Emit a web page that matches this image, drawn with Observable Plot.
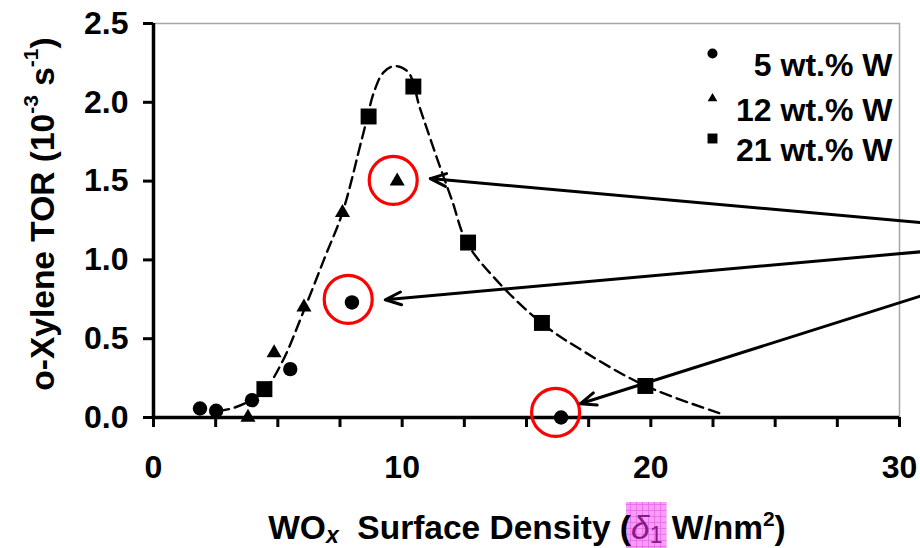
<!DOCTYPE html>
<html><head><meta charset="utf-8">
<script src="https://cdn.jsdelivr.net/npm/d3@7"></script>
<script src="https://cdn.jsdelivr.net/npm/@observablehq/plot@0.6"></script>
<style>body{margin:0;background:#fff} svg{display:block}</style>
</head><body><div id="chart"></div>
<script>
// ---- data ----
const seriesNames = ["5 wt.% W", "12 wt.% W", "21 wt.% W"];
const w5X  = [1.87, 2.52, 3.96, 5.50, 7.98, 16.39];
const w5Y  = [0.057, 0.043, 0.11, 0.307, 0.73, 0.0];
const w12X = [3.8, 4.85, 6.05, 7.6, 9.8];
const w12Y = [0.0, 0.41, 0.70, 1.30, 1.50];
const w21X = [4.46, 8.65, 10.45, 12.65, 15.62, 19.78];
const w21Y = [0.18, 1.91, 2.10, 1.11, 0.60, 0.20];
// dashed guide curve
const curveX = [2.6, 3.2, 3.8, 4.5, 5.2, 6.0, 6.9, 7.6, 8.4, 8.9, 9.25, 9.7, 10.25, 10.7, 11.0, 11.5, 12.0, 12.6, 13.8, 15.6, 17.4, 19.8, 22.9];
const curveY = [0.04, 0.06, 0.10, 0.18, 0.36, 0.66, 1.02, 1.30, 1.78, 2.08, 2.19, 2.23, 2.19, 1.97, 1.83, 1.60, 1.38, 1.11, 0.87, 0.60, 0.41, 0.20, 0.02];
// annotations
const circledX = [9.64, 7.83, 16.17];
const circledY = [1.505, 0.749, 0.032];
const arrowFromX = [30.9, 30.9, 30.9];
const arrowFromY = [1.236, 1.052, 0.773];
const arrowToX = [11.13, 9.32, 17.16];
const arrowToY = [1.516, 0.747, 0.087];
// ticks
const xTicks = [0, 2.5, 5, 7.5, 10, 12.5, 15, 17.5, 20, 22.5, 25, 27.5, 30];
const xTickLabels = [0, 10, 20, 30];
const yTicks = [0, 0.5, 1.0, 1.5, 2.0, 2.5];

const pts = (xs, ys) => xs.map((x, i) => ({x, y: ys[i]}));
const arrows = arrowFromX.map((x1, i) => ({x1, y1: arrowFromY[i], x2: arrowToX[i], y2: arrowToY[i]}));

const FONT = "'Liberation Sans', Arial, Helvetica, sans-serif";

const chart = Plot.plot({
  width: 920, height: 548,
  marginLeft: 153, marginRight: 21, marginTop: 23, marginBottom: 131,
  x: {domain: [0, 30]},
  y: {domain: [0, 2.5]},
  style: {fontFamily: FONT, fontWeight: "bold", background: "#fff", color: "#000"},
  marks: [
    Plot.frame({stroke: "#a6a6a6", strokeWidth: 1.5}),
    Plot.line(pts(curveX, curveY), {x: "x", y: "y", curve: "catmull-rom", stroke: "#000", strokeWidth: 2.4, strokeDasharray: "11,6"}),
    Plot.axisY({ticks: yTicks, tickFormat: d3.format(".1f"), tickSize: 10, tickPadding: 15, strokeWidth: 3, fontSize: 32, label: null}),
    Plot.axisX({ticks: xTicks, tickFormat: d => xTickLabels.includes(d) ? String(d) : "", tickSize: 10, tickPadding: 28, strokeWidth: 3, fontSize: 32, label: null}),
    Plot.ruleX([0], {stroke: "#000", strokeWidth: 3.5}),
    Plot.ruleY([0], {stroke: "#000", strokeWidth: 3.5}),
    Plot.dot(pts(w5X, w5Y), {x: "x", y: "y", symbol: "circle", r: 7.2, fill: "#000"}),
    Plot.dot(pts(w12X, w12Y), {x: "x", y: "y", symbol: "triangle", r: 5.6, fill: "#000"}),
    Plot.dot(pts(w21X, w21Y), {x: "x", y: "y", symbol: "square", r: 9, fill: "#000"}),
    Plot.dot(pts(circledX, circledY), {x: "x", y: "y", r: 24, stroke: "#ff0000", strokeWidth: 3.2, fill: "none"}),
    Plot.arrow(arrows, {x1: "x1", y1: "y1", x2: "x2", y2: "y2", stroke: "#000", strokeWidth: 3, headLength: 8.5, headAngle: 44}),
    // legend
    Plot.dot([0], {frameAnchor: "top-right", dx: -187, dy: 30, symbol: "circle", r: 5, fill: "#000"}),
    Plot.dot([0], {frameAnchor: "top-right", dx: -187, dy: 75, symbol: "triangle", r: 3.6, fill: "#000"}),
    Plot.dot([0], {frameAnchor: "top-right", dx: -187, dy: 115, symbol: "square", r: 5.6, fill: "#000"}),
    Plot.text([seriesNames[0]], {frameAnchor: "top-right", dx: -7, dy: 30, textAnchor: "end", fontSize: 32, fontWeight: "bold"}),
    Plot.text([seriesNames[1]], {frameAnchor: "top-right", dx: -7, dy: 75, textAnchor: "end", fontSize: 32, fontWeight: "bold"}),
    Plot.text([seriesNames[2]], {frameAnchor: "top-right", dx: -7, dy: 115, textAnchor: "end", fontSize: 32, fontWeight: "bold"})
  ]
});
document.getElementById("chart").appendChild(chart);

// ---- axis titles ----
const svg = d3.select(chart);
const defs = svg.append("defs");
const pat = defs.append("pattern").attr("id", "pinkgrid").attr("patternUnits", "userSpaceOnUse").attr("width", 6).attr("height", 6);
pat.append("rect").attr("width", 6).attr("height", 6).attr("fill", "#fb9cfb");
pat.append("path").attr("d", "M0,0.5H6M0.5,0V6").attr("stroke", "#e46ae4").attr("stroke-width", 0.8);

const hl = svg.append("rect").attr("fill", "url(#pinkgrid)");

const yt = svg.append("text")
  .attr("transform", "translate(42,214) rotate(-90)")
  .attr("text-anchor", "middle")
  .attr("dominant-baseline", "central")
  .style("font-family", FONT).style("font-weight", "bold").style("font-size", "33.5px").style("white-space", "pre");
yt.append("tspan").text("o-Xylene TOR (10");
yt.append("tspan").attr("dy", -12).style("font-size", "21px").text("-3");
yt.append("tspan").attr("dy", 12).text(" s");
yt.append("tspan").attr("dy", -12).style("font-size", "21px").text("-1");
yt.append("tspan").attr("dy", 12).text(")");

const xt = svg.append("text")
  .attr("x", 527).attr("y", 539)
  .attr("text-anchor", "middle")
  .style("font-family", FONT).style("font-weight", "bold").style("font-size", "33.5px").style("white-space", "pre");
xt.append("tspan").text("WO");
xt.append("tspan").attr("dy", 4).style("font-size", "23px").style("font-style", "italic").text("x");
xt.append("tspan").attr("dy", -4).text("  Surface Density (");
const delta = xt.append("tspan").style("font-style", "italic").attr("fill", "#8a1a8a").style("font-weight", "normal").text("δ");
const one = xt.append("tspan").attr("dy", 4).style("font-size", "23px").attr("fill", "#8a1a8a").style("font-weight", "normal").text("1");
xt.append("tspan").attr("dy", -4).text(" W/nm");
xt.append("tspan").attr("dy", -13).style("font-size", "21px").text("2");
xt.append("tspan").attr("dy", 13).text(")");

try {
  const b1 = delta.node().getBBox();
  const b2 = one.node().getBBox();
  const left = b1.x - 5, right = b2.x + b2.width + 4;
  hl.attr("x", left).attr("y", 502).attr("width", right - left).attr("height", 46);
} catch (e) {}
</script>
</body></html>
